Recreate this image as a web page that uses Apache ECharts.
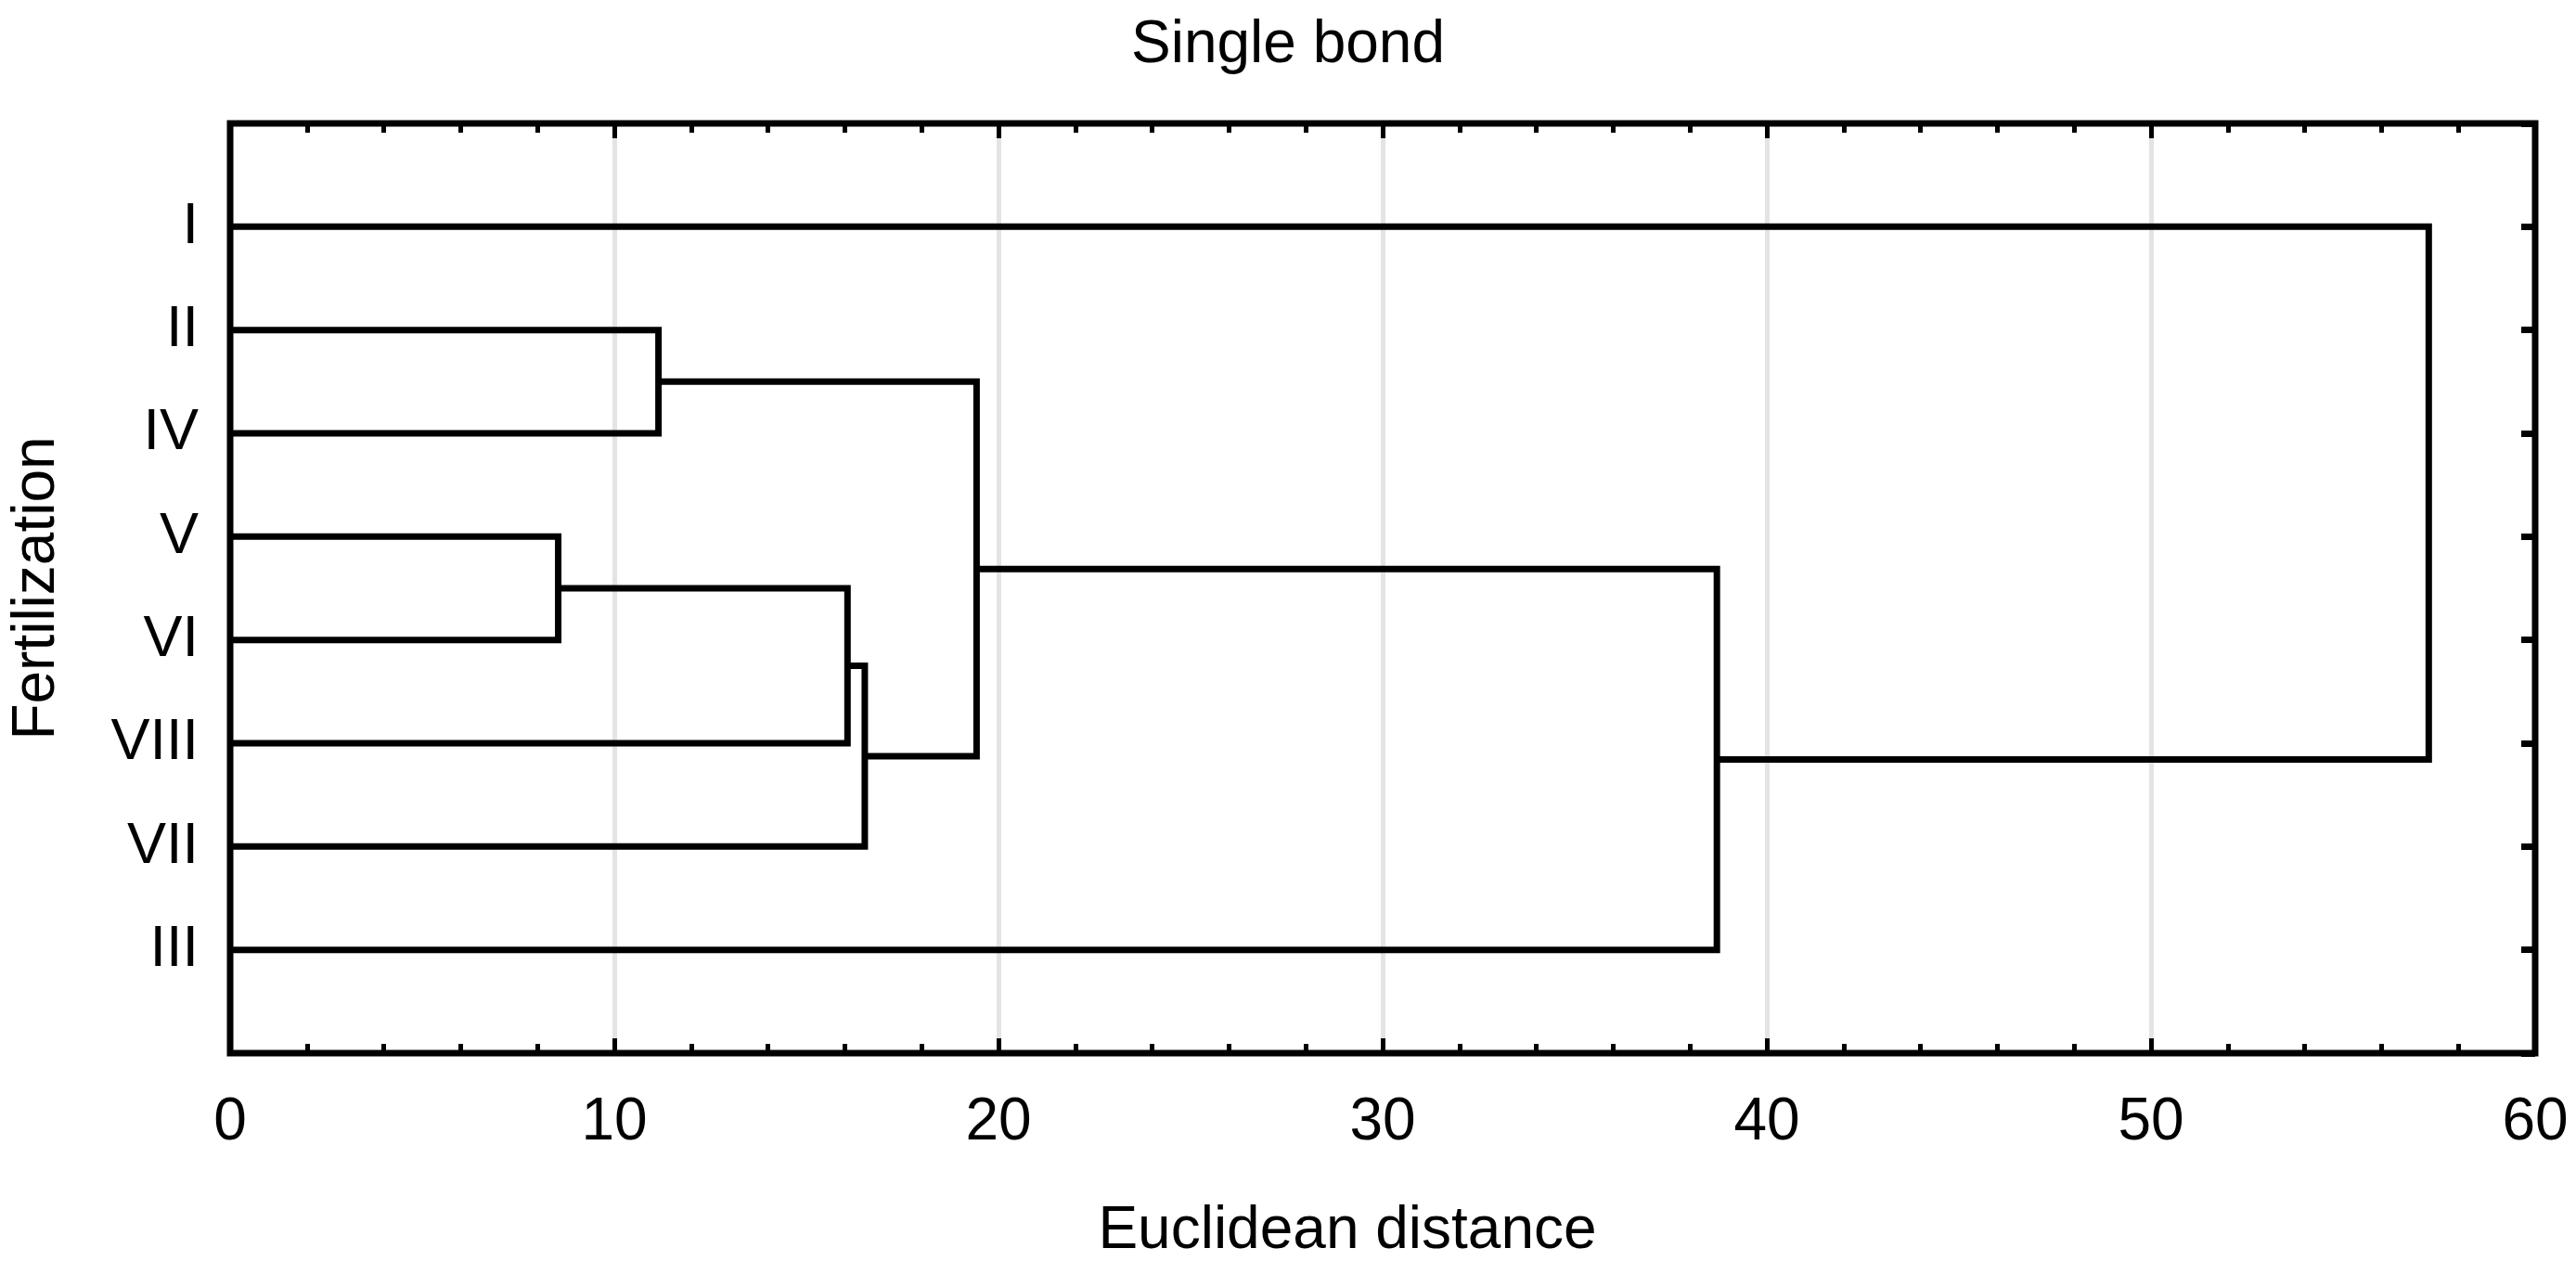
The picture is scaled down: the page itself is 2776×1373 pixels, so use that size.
<!DOCTYPE html>
<html>
<head>
<meta charset="utf-8">
<script src="https://cdn.jsdelivr.net/npm/echarts@6/dist/echarts.min.js"></script>
<style>
  html, body { margin: 0; padding: 0; background: #fff; }
  #main_chart { width: 2776px; height: 1373px; }
</style>
</head>
<body>
<div id="main_chart"></div>
<script>
// leaves, top to bottom
const leaves = ['I', 'II', 'IV', 'V', 'VI', 'VIII', 'VII', 'III'];
// joins: children are leaf names or 'c<k>' (k = index of an earlier join)
const joinA = ['V', 'II', 'c0', 'c2', 'c1', 'c4', 'I'];
const joinB = ['VI', 'IV', 'VIII', 'VII', 'c3', 'III', 'c5'];
const joinDist = [8.54, 11.15, 16.07, 16.52, 19.43, 38.7, 57.23];
const xTicks = [0, 10, 20, 30, 40, 50, 60];

const FONT = '"Liberation Sans", Arial, sans-serif';
const CHART_ID = 'main_chart';

// where a node sits: [distance, row]
const nodePos = (name, done) => {
    if (name[0] === 'c') return done[+name.slice(1)];
    return [0, leaves.indexOf(name) + 1];
};

const buildSeries = () => {
    const done = [];
    return joinDist.map((d, i) => {
        const a = nodePos(joinA[i], done);
        const b = nodePos(joinB[i], done);
        done.push([d, (a[1] + b[1]) / 2]);
        return {
            type: 'line',
            symbol: 'none',
            silent: true,
            z: 3,
            lineStyle: { color: '#000', width: 7, cap: 'butt', join: 'miter' },
            data: [[a[0], a[1]], [d, a[1]], [d, b[1]], [b[0], b[1]]]
        };
    });
};

const xMin = xTicks[0], xMax = xTicks[xTicks.length - 1];
const xStep = xTicks[1] - xTicks[0];

const tickStyle = { color: '#000', width: 5 };

const option = {
    animation: false,
    backgroundColor: '#fff',
    title: {
        text: 'Single bond',
        left: 'center',
        top: 12,
        textStyle: { fontFamily: FONT, fontSize: 64, fontWeight: 'normal', color: '#000' }
    },
    grid: {
        left: 248, right: 44, top: 133, bottom: 238,
        show: true, borderColor: '#000', borderWidth: 7, backgroundColor: 'transparent'
    },
    xAxis: [
        {
            type: 'value', position: 'bottom', min: xMin, max: xMax, interval: xStep,
            name: 'Euclidean distance', nameLocation: 'middle', nameGap: 160,
            nameTextStyle: { fontFamily: FONT, fontSize: 64, color: '#000', padding: [0, 76, 0, 0] },
            axisLine: { show: false, onZero: false },
            axisTick: { show: true, inside: true, length: 16, lineStyle: tickStyle },
            minorTick: { show: true, splitNumber: 5, length: 10, lineStyle: tickStyle },
            axisLabel: { fontFamily: FONT, fontSize: 64, color: '#000', margin: 43 },
            splitLine: {
                show: true, showMinLine: false, showMaxLine: false,
                lineStyle: { color: '#e4e4e4', width: 5 }
            }
        },
        {
            type: 'value', position: 'top', min: xMin, max: xMax, interval: xStep,
            axisLine: { show: false, onZero: false },
            axisTick: { show: true, inside: true, length: 16, lineStyle: tickStyle },
            minorTick: { show: true, splitNumber: 5, length: 10, lineStyle: tickStyle },
            axisLabel: { show: false },
            splitLine: { show: false }
        }
    ],
    yAxis: [
        {
            type: 'value', position: 'left', inverse: true, min: 0, max: leaves.length + 1, interval: 1,
            name: 'Fertilization', nameLocation: 'middle', nameGap: 176,
            nameTextStyle: { fontFamily: FONT, fontSize: 64, color: '#000' },
            axisLine: { show: false, onZero: false },
            axisTick: { show: false },
            axisLabel: {
                fontFamily: FONT, fontSize: 63, color: '#000', margin: 34,
                formatter: v => leaves[v - 1] || ''
            },
            splitLine: { show: false }
        },
        {
            type: 'value', position: 'right', inverse: true, min: 0, max: leaves.length + 1, interval: 1,
            axisLine: { show: false, onZero: false },
            axisTick: { show: true, inside: true, length: 15, lineStyle: { color: '#000', width: 7 } },
            axisLabel: { show: false },
            splitLine: { show: false }
        }
    ],
    series: buildSeries()
};

const mychart = echarts.init(document.getElementById(CHART_ID));
mychart.setOption(option);
</script>
</body>
</html>
